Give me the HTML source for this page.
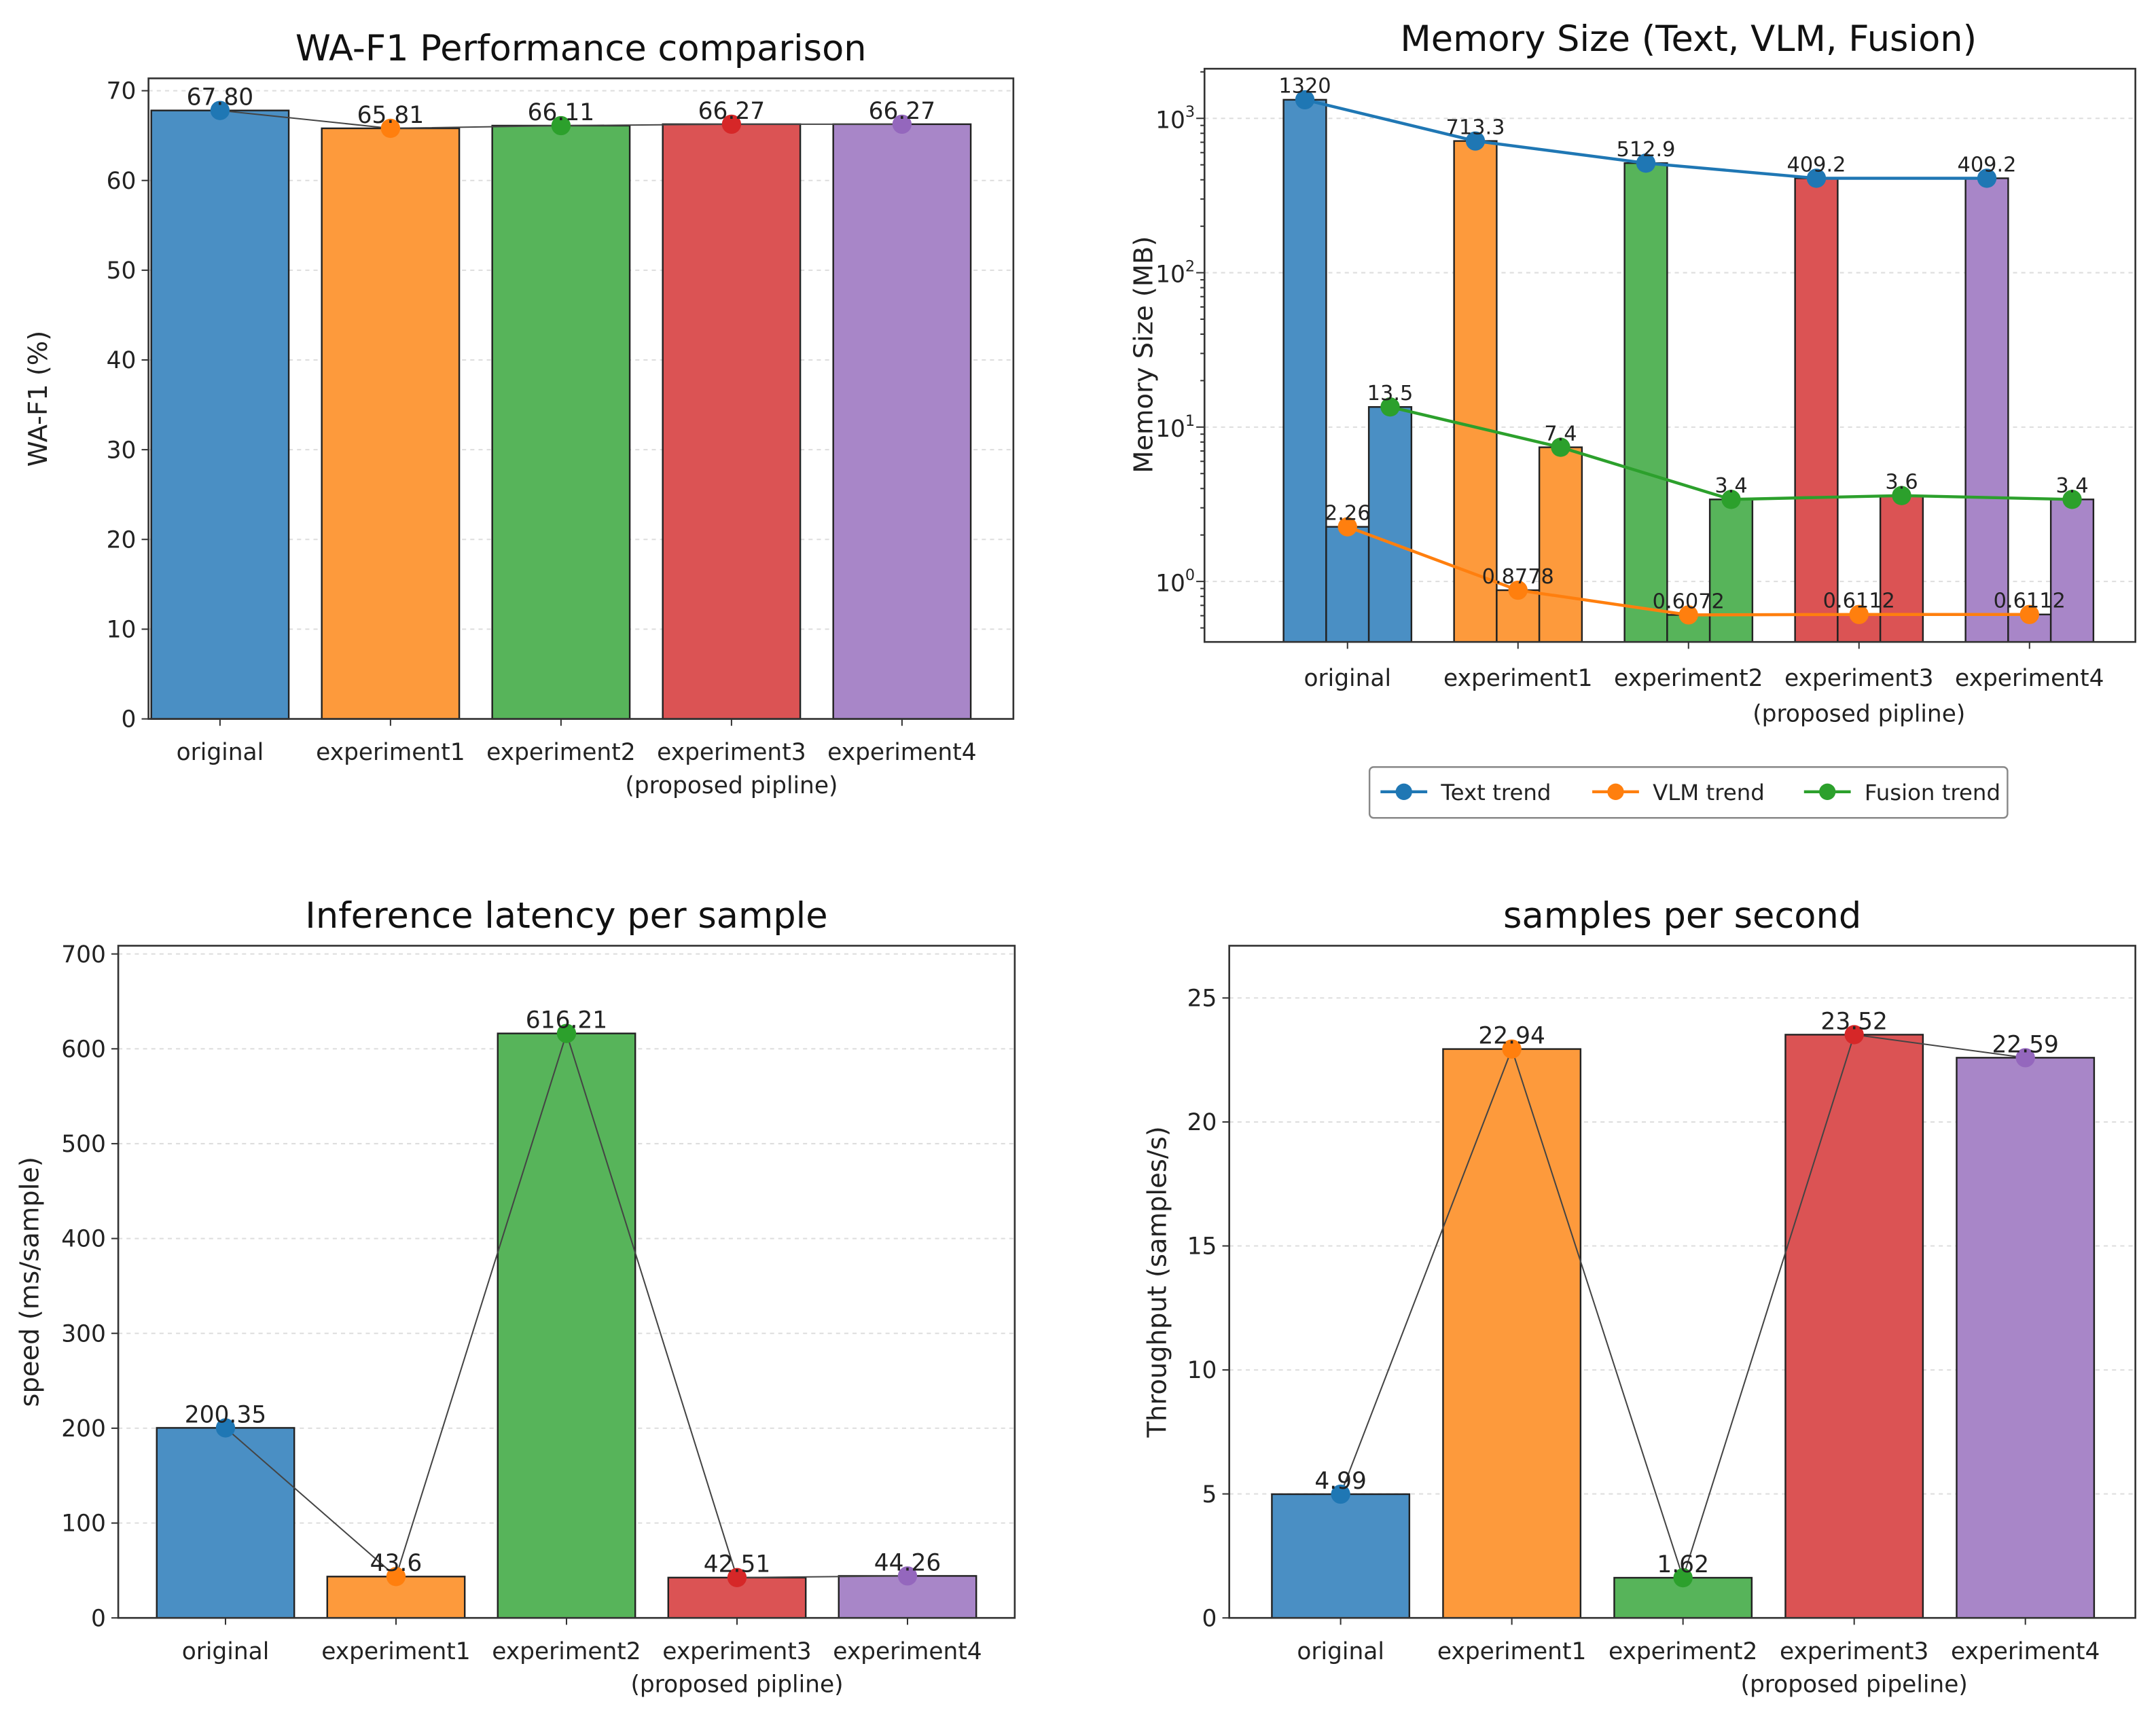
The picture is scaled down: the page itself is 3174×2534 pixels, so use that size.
<!DOCTYPE html>
<html><head><meta charset="utf-8"><style>
html,body{margin:0;padding:0;background:#fff;}
svg{display:block;font-family:"DejaVu Sans","Liberation Sans",sans-serif;}
</style></head><body>
<svg id="fig" width="3174" height="2534" viewBox="0 0 1568 1252" preserveAspectRatio="none" xmlns="http://www.w3.org/2000/svg"></svg>
<script>
const categories = ["original","experiment1","experiment2","experiment3","experiment4"];
const wafValues = [67.80, 65.81, 66.11, 66.27, 66.27];
const wafLabels = ["67.80","65.81","66.11","66.27","66.27"];
const memText = [1320, 713.3, 512.9, 409.2, 409.2];
const memVlm = [2.26, 0.8778, 0.6072, 0.6112, 0.6112];
const memFusion = [13.5, 7.4, 3.4, 3.6, 3.4];
const memTextLabels = ["1320","713.3","512.9","409.2","409.2"];
const memVlmLabels = ["2.26","0.8778","0.6072","0.6112","0.6112"];
const memFusionLabels = ["13.5","7.4","3.4","3.6","3.4"];
const latValues = [200.35, 43.6, 616.21, 42.51, 44.26];
const latLabels = ["200.35","43.6","616.21","42.51","44.26"];
const thrValues = [4.99, 22.94, 1.62, 23.52, 22.59];
const thrLabels = ["4.99","22.94","1.62","23.52","22.59"];
const wafTicks = [0,10,20,30,40,50,60,70];
const latTicks = [0,100,200,300,400,500,600,700];
const thrTicks = [0,5,10,15,20,25];
const memTicks = [0,1,2,3];

const fill = ["#4a8fc4","#fd9a3c","#57b45a","#db5354","#a886c8"];
const mark = ["#1f77b4","#ff7f0e","#2ca02c","#d62728","#9467bd"];
const svg = document.getElementById('fig');
const NS = "http://www.w3.org/2000/svg";
function el(tag, attrs, parent){const e=document.createElementNS(NS,tag);for(const k in attrs)e.setAttribute(k,attrs[k]);(parent||svg).appendChild(e);return e;}
function txt(s, attrs, parent){const t=el('text',attrs,parent);t.textContent=s;return t;}

function linearChart(cfg){
  const g=el('g',{});
  
  
  const {L,R,T,B,ymax,cx0,dx,bw,values,labels,ticks,title,ylabel,ylx,extra}=cfg;
  const y=v=>B-(v/ymax)*(B-cfg.ytop);
  const x=i=>cx0+dx*i;
  ticks.forEach(t=>{const l=el('line',{x1:L,x2:R,y1:y(t),y2:y(t),stroke:'#ddd','stroke-width':1,'stroke-dasharray':'3,3'},g);
    });
  values.forEach((v,i)=>{const r=el('rect',{x:x(i)-bw/2,y:y(v),width:bw,height:B-y(v),fill:fill[i],stroke:'#222','stroke-width':1.2},g);
    });
  const pl=el('polyline',{points:values.map((v,i)=>x(i)+','+y(v)).join(' '),fill:'none',stroke:'#444','stroke-width':1},g);
  
  values.forEach((v,i)=>{const c=el('circle',{cx:x(i),cy:y(v),r:7,fill:mark[i]},g);
    });
  values.forEach((v,i)=>{const t=txt(labels[i],{x:x(i),y:y(v)-4,'text-anchor':'middle','font-size':17,fill:'#222'},g);
    });
  const fr=el('rect',{x:L,y:T,width:R-L,height:B-T,fill:'none',stroke:'#333','stroke-width':1.3},g);
  
  ticks.forEach(t=>{el('line',{x1:L-5,x2:L,y1:y(t),y2:y(t),stroke:'#333'},g);
    const tl=txt(String(t),{x:L-9,y:y(t)+6,'text-anchor':'end','font-size':17,fill:'#222'},g);
    });
  categories.forEach((c,i)=>{el('line',{x1:x(i),x2:x(i),y1:B,y2:B+5,stroke:'#333'},g);
    const tl=txt(c,{x:x(i),y:B+30,'text-anchor':'middle','font-size':17,fill:'#222'},g);
    });
  const ex=txt(extra,{x:x(3),y:B+54,'text-anchor':'middle','font-size':17,fill:'#222'},g);
  
  const tt=txt(title,{x:(L+R)/2,y:T-13,'text-anchor':'middle','font-size':26,fill:'#111'},g);
  
  const yl=txt(ylabel,{x:ylx,y:(T+B)/2,'text-anchor':'middle','font-size':19,fill:'#222',transform:`rotate(-90 ${ylx} ${(T+B)/2})`},g);
  
}

linearChart({name:'wa-f1-chart',L:108,R:737,T:57,B:523,ytop:66,ymax:70,cx0:160,dx:124,bw:100,values:wafValues,labels:wafLabels,ticks:wafTicks,title:'WA-F1 Performance comparison',ylabel:'WA-F1 (%)',ylx:34,extra:'(proposed pipline)'});
linearChart({name:'latency-chart',L:86,R:738,T:688,B:1177,ytop:694,ymax:700,cx0:164,dx:124,bw:100,values:latValues,labels:latLabels,ticks:latTicks,title:'Inference latency per sample',ylabel:'speed (ms/sample)',ylx:28,extra:'(proposed pipline)'});
linearChart({name:'throughput-chart',L:894,R:1553,T:688,B:1177,ytop:726,ymax:25,cx0:975,dx:124.5,bw:100,values:thrValues,labels:thrLabels,ticks:thrTicks,title:'samples per second',ylabel:'Throughput (samples/s)',ylx:848,extra:'(proposed pipeline)'});

(function(){
  const g=el('g',{});
  
  
  const L=876,R=1553,T=50,B=467;
  const y=v=>423-Math.log10(v)*112.3;
  const cx=i=>980+124*i, bw=31;
  memTicks.forEach(t=>{const l=el('line',{x1:L,x2:R,y1:y(Math.pow(10,t)),y2:y(Math.pow(10,t)),stroke:'#ddd','stroke-width':1,'stroke-dasharray':'3,3'},g);
    });
  const series=[[memText,-1,'text'],[memVlm,0,'vlm'],[memFusion,1,'fusion']];
  categories.forEach((c,i)=>{series.forEach(([arr,o,n])=>{const xx=cx(i)+o*bw;
    const r=el('rect',{x:xx-bw/2,y:y(arr[i]),width:bw,height:B-y(arr[i]),fill:fill[i],stroke:'#222','stroke-width':1.2},g);
    });});
  const lines=[[memText,-1,mark[0],memTextLabels,'text-trend'],[memVlm,0,mark[1],memVlmLabels,'vlm-trend'],[memFusion,1,mark[2],memFusionLabels,'fusion-trend']];
  lines.forEach(([arr,o,col,labs,n])=>{
    const pl=el('polyline',{points:arr.map((v,i)=>(cx(i)+o*bw)+','+y(v)).join(' '),fill:'none',stroke:col,'stroke-width':2.2},g);
    
    arr.forEach((v,i)=>{const c=el('circle',{cx:cx(i)+o*bw,cy:y(v),r:7,fill:col},g);
      
      const t=txt(labs[i],{x:cx(i)+o*bw,y:y(v)-5,'text-anchor':'middle','font-size':15,fill:'#222'},g);
      });
  });
  const fr=el('rect',{x:L,y:T,width:R-L,height:B-T,fill:'none',stroke:'#333','stroke-width':1.3},g);
  
  for(let d=-1;d<=3;d++){for(let m=2;m<=9;m++){const v=m*Math.pow(10,d);const yy=y(v);if(yy>T&&yy<B)el('line',{x1:L-3,x2:L,y1:yy,y2:yy,stroke:'#333'},g);}}
  memTicks.forEach(t=>{const yy=y(Math.pow(10,t));el('line',{x1:L-6,x2:L,y1:yy,y2:yy,stroke:'#333'},g);
    const tl=txt('10',{x:L-7,y:yy+7,'text-anchor':'end','font-size':17,fill:'#222'},g);
    const sp=document.createElementNS(NS,'tspan');sp.setAttribute('dy','-8');sp.setAttribute('font-size','11');sp.textContent=String(t);tl.appendChild(sp);
    });
  categories.forEach((c,i)=>{el('line',{x1:cx(i),x2:cx(i),y1:B,y2:B+5,stroke:'#333'},g);
    const tl=txt(c,{x:cx(i),y:B+32,'text-anchor':'middle','font-size':17,fill:'#222'},g);
    });
  const ex=txt('(proposed pipline)',{x:cx(3),y:B+58,'text-anchor':'middle','font-size':17,fill:'#222'},g);
  
  const tt=txt('Memory Size (Text, VLM, Fusion)',{x:1228,y:37,'text-anchor':'middle','font-size':26,fill:'#111'},g);
  
  const yl=txt('Memory Size (MB)',{x:838,y:258,'text-anchor':'middle','font-size':19,fill:'#222',transform:'rotate(-90 838 258)'},g);
  
  const lg=el('g',{},g);
  
  el('rect',{x:996,y:558,width:464,height:37,rx:3,fill:'#fff',stroke:'#888','stroke-width':1.2},lg);
  const ents=[['Text trend',mark[0],1004],['VLM trend',mark[1],1158],['Fusion trend',mark[2],1312]];
  ents.forEach(([n,col,x0])=>{const e=el('g',{},lg);
    
    el('line',{x1:x0,x2:x0+34,y1:576,y2:576,stroke:col,'stroke-width':2.2},e);
    el('circle',{cx:x0+17,cy:576,r:6,fill:col},e);
    txt(n,{x:x0+44,y:582,'font-size':16,fill:'#222'},e);});
})();
</script>
</body></html>
